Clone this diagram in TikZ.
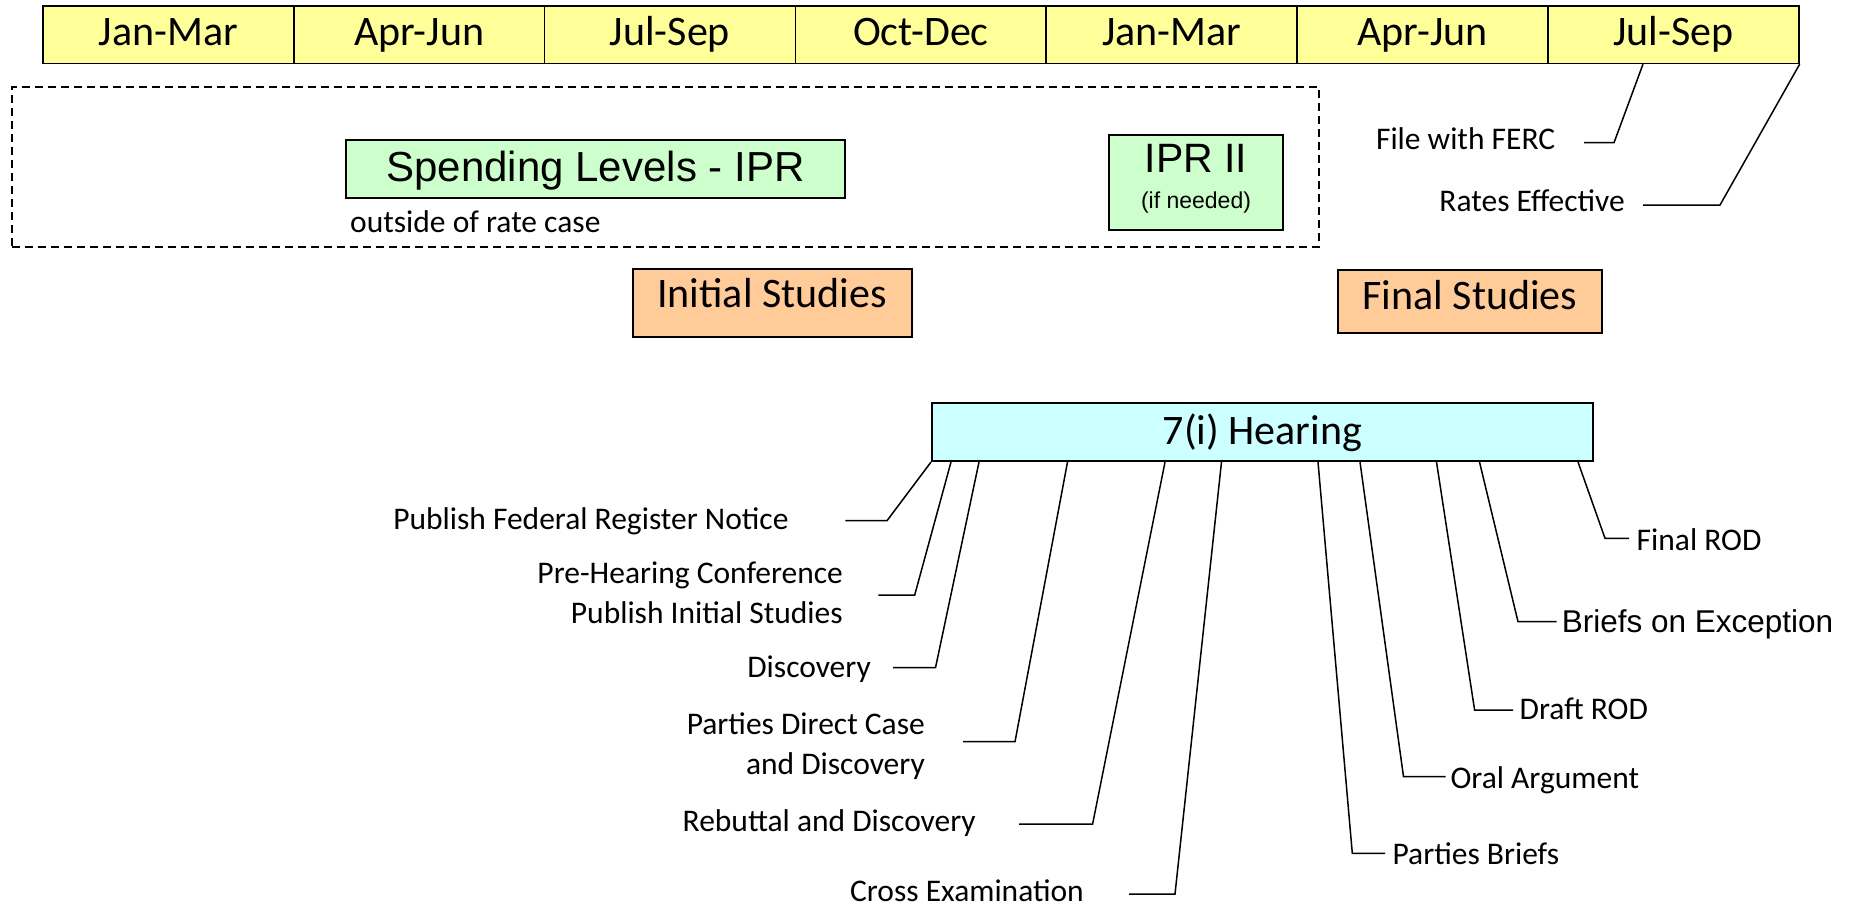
\documentclass[tikz,border=0pt]{standalone}
\usepackage{fontspec}
\setmainfont{Carlito}
\newfontfamily\arial{Liberation Sans}
\definecolor{hdr}{HTML}{FFFF99}
\definecolor{grn}{HTML}{CCFFCC}
\definecolor{pch}{HTML}{FFCC99}
\definecolor{cyn}{HTML}{CCFFFF}
\begin{document}
\begin{tikzpicture}[x=1pt,y=-1pt,
  cell/.style={draw=black, line width=1.6pt, fill=hdr, minimum width=250.9pt, minimum height=57.5pt,
    inner sep=0pt, anchor=north west, font=\fontsize{42}{50}\selectfont, text height=27pt, text depth=5.4pt},
  box/.style={draw=black, line width=2pt, inner sep=0pt, anchor=north west},
  lead/.style={line width=1.5pt},
  lab/.style={inner sep=0pt, font=\fontsize{31.5}{40}\selectfont}]
\useasboundingbox (0,0) rectangle (1858,906);
% header
\node[cell] (h1) at (42,5) {Jan-Mar};
\node[cell] (h2) at (292.9,5) {Apr-Jun};
\node[cell] (h3) at (543.7,5) {Jul-Sep};
\node[cell] (h4) at (794.6,5) {Oct-Dec};
\node[cell] (h5) at (1045.4,5) {Jan-Mar};
\node[cell] (h6) at (1296.3,5) {Apr-Jun};
\node[cell] (h7) at (1547.2,5) {Jul-Sep};
% dashed group
\node[draw=black, line width=1.5pt, dash pattern=on 8pt off 5pt, inner sep=0pt, anchor=north west,
  minimum width=1307pt, minimum height=160pt] (grp) at (11,86) {};
\node[box, fill=grn, minimum width=499pt, minimum height=58.5pt, font=\arial\fontsize{42}{50}\selectfont,
  text height=30pt, text depth=5.2pt] (spend) at (345,138.5) {Spending Levels - IPR};
\node[lab, anchor=base west] (outs) at (350,232) {outside of rate case};
\node[box, fill=grn, minimum width=174pt, minimum height=95pt, align=center, font=\arial] (ipr2) at (1108,134)
  {\fontsize{41}{41}\selectfont IPR II\\[18pt] \fontsize{23}{28}\selectfont (if needed)\rule[-11.8pt]{0pt}{0pt}};
% studies
\node[box, fill=pch, minimum width=279pt, minimum height=68pt, font=\fontsize{42}{50}\selectfont,
  text height=27pt, text depth=17.6pt] (init) at (631.5,268) {Initial Studies};
\node[box, fill=pch, minimum width=264pt, minimum height=63pt, font=\fontsize{42}{50}\selectfont,
  text height=27pt, text depth=11.4pt] (final) at (1337,269) {Final Studies};
% hearing
\node[box, fill=cyn, minimum width=661pt, minimum height=58pt, font=\fontsize{42}{50}\selectfont,
  text height=27pt, text depth=2.4pt] (hear) at (931,402) {7(i) Hearing};
% FERC callouts
\node[lab, anchor=mid east] (lfile) at (1555.4,147) {File with FERC};
\coordinate (efile) at (1614,142.7);
\coordinate (ffile) at (1584,142.7);
\draw[lead] ([xshift=95.8pt]h7.south west) -- (efile) -- (ffile);
\node[lab, anchor=mid east] (lrate) at (1625,209.5) {Rates Effective};
\coordinate (erate) at (1720,205);
\coordinate (frate) at (1643,205);
\draw[lead] (h7.south east) -- (erate) -- (frate);
% hearing callouts, left
\node[lab, anchor=mid east] (l1) at (788.7,527) {Publish Federal Register Notice};
\coordinate (e1) at (887,520.7); \coordinate (f1) at (845.4,520.7);
\draw[lead] (hear.south west) -- (e1) -- (f1);
\node[lab, anchor=east, align=right] (l2) at (843,592.5) {Pre-Hearing Conference\\Publish Initial Studies};
\coordinate (e2) at (914.7,595); \coordinate (f2) at (878.4,595);
\draw[lead] ([xshift=20pt]hear.south west) -- (e2) -- (f2);
\node[lab, anchor=mid east] (l3) at (871,675) {Discovery};
\coordinate (e3) at (935.5,667.7); \coordinate (f3) at (893,667.7);
\draw[lead] ([xshift=48pt]hear.south west) -- (e3) -- (f3);
\node[lab, anchor=east, align=right] (l4) at (925,746) {Parties Direct Case\\and Discovery};
\coordinate (e4) at (1015,741.7); \coordinate (f4) at (963,741.7);
\draw[lead] ([xshift=136.5pt]hear.south west) -- (e4) -- (f4);
\node[lab, anchor=mid east] (l5) at (976,829) {Rebuttal and Discovery};
\coordinate (e5) at (1092.6,824); \coordinate (f5) at (1019,824);
\draw[lead] ([xshift=234pt]hear.south west) -- (e5) -- (f5);
\node[lab, anchor=mid east] (l6) at (1084,899.5) {Cross Examination};
\coordinate (e6) at (1175,894); \coordinate (f6) at (1129,894);
\draw[lead] ([xshift=290.5pt]hear.south west) -- (e6) -- (f6);
% hearing callouts, right
\node[lab, anchor=mid west] (l7) at (1392.4,862.5) {Parties Briefs};
\coordinate (e7) at (1352.3,853.3); \coordinate (f7) at (1385,853.3);
\draw[lead] ([xshift=387pt]hear.south west) -- (e7) -- (f7);
\node[lab, anchor=mid west] (l8) at (1450.4,786) {Oral Argument};
\coordinate (e8) at (1403.5,776.7); \coordinate (f8) at (1445.6,776.7);
\draw[lead] ([xshift=429pt]hear.south west) -- (e8) -- (f8);
\node[lab, anchor=mid west] (l9) at (1519.5,717) {Draft ROD};
\coordinate (e9) at (1474.6,710); \coordinate (f9) at (1513,710);
\draw[lead] ([xshift=505.5pt]hear.south west) -- (e9) -- (f9);
\node[lab, anchor=mid west, font=\arial\fontsize{31.5}{40}\selectfont] (l10) at (1561.6,630) {Briefs on Exception};
\coordinate (e10) at (1518,621.7); \coordinate (f10) at (1556.7,621.7);
\draw[lead] ([xshift=548.5pt]hear.south west) -- (e10) -- (f10);
\node[lab, anchor=mid west] (l11) at (1636.5,548) {Final ROD};
\coordinate (e11) at (1605,538.3); \coordinate (f11) at (1629,538.3);
\draw[lead] ([xshift=647pt]hear.south west) -- (e11) -- (f11);
\end{tikzpicture}
\end{document}
